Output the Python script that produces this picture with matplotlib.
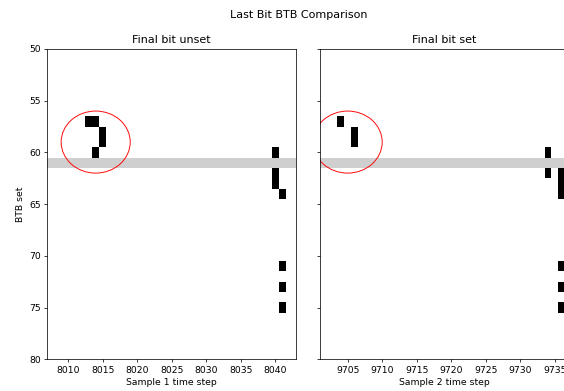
import numpy as np
import matplotlib
matplotlib.use("Agg")
import matplotlib.pyplot as plt
from matplotlib.patches import Ellipse

# sample 1: time step / BTB set of each hit
times1 = [8013, 8014, 8015, 8015, 8014, 8040, 8040, 8040, 8041, 8041, 8041, 8041]
bits1 = [57, 57, 58, 59, 60, 60, 62, 63, 64, 71, 73, 75]

# sample 2
times2 = [9704, 9706, 9706, 9734, 9734, 9736, 9736, 9736, 9736, 9736, 9736]
bits2 = [57, 58, 59, 60, 62, 62, 63, 64, 71, 73, 75]

highlight_set = 61
circle1 = (8014, 59)
circle2 = (9705, 59)

fig = plt.figure(figsize=(8.4601, 5.8651), dpi=200 / 3)
ax1 = fig.add_axes([0.0839, 0.0811, 0.441, 0.7936])
ax2 = fig.add_axes([0.5674, 0.0811, 0.441, 0.7936], sharey=ax1)


def draw(ax, times, bits, center, xlim, title, xlabel):
    ax.bar(times, 1, width=1, bottom=np.array(bits) - 0.5, color="black")
    ax.axhspan(highlight_set - 0.5, highlight_set + 0.5, color="#cfcfcf", lw=0)
    ax.add_patch(Ellipse(center, 10, 6, fill=False, edgecolor="red", lw=1))
    ax.set_xlim(*xlim)
    ax.set_title(title)
    ax.set_xlabel(xlabel)


draw(ax1, times1, bits1, circle1, (8007, 8043), "Final bit unset", "Sample 1 time step")
draw(ax2, times2, bits2, circle2, (9701, 9737), "Final bit set", "Sample 2 time step")

ax1.set_ylim(80, 50)
ax1.set_yticks(np.arange(50, 81, 5))
ax1.set_ylabel("BTB set")
ax2.tick_params(labelleft=False)

fig.suptitle("Last Bit BTB Comparison", x=0.53, y=0.975)

fig.savefig("out.png")
